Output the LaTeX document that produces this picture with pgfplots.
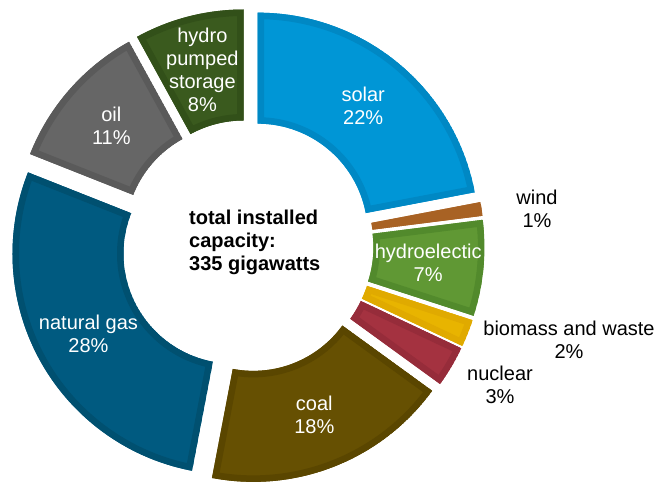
\documentclass[border=0pt]{standalone}
\usepackage{fontspec}
\setmainfont{Liberation Sans}
\usepackage{pgfplots}
\pgfplotsset{compat=1.18}

% slice colours: fill / darker border
\definecolor{solarF}{HTML}{0096D6}\definecolor{solarB}{HTML}{0088C4}
\definecolor{windF}{HTML}{B06828}\definecolor{windB}{HTML}{A86224}
\definecolor{hydroF}{HTML}{609834}\definecolor{hydroB}{HTML}{528A2C}
\definecolor{bioF}{HTML}{E8B400}\definecolor{bioB}{HTML}{E0AA00}
\definecolor{nucF}{HTML}{A43240}\definecolor{nucB}{HTML}{962C3A}
\definecolor{coalF}{HTML}{665002}\definecolor{coalB}{HTML}{5A4600}
\definecolor{gasF}{HTML}{005A80}\definecolor{gasB}{HTML}{005070}
\definecolor{oilF}{HTML}{666666}\definecolor{oilB}{HTML}{5A5A5A}
\definecolor{pumpF}{HTML}{3A5A1E}\definecolor{pumpB}{HTML}{325019}

\newcommand\cx{247.5}
\newcommand\cy{236}
\newcommand\pumplab{hydro\\pumped\\storage}
\newcommand\lblfont{\fontsize{20bp}{23bp}\selectfont}

\begin{document}
\begin{tikzpicture}
\begin{axis}[
    width=658bp, height=482bp, scale only axis,
    xmin=0, xmax=658, ymin=0, ymax=482,
    hide axis, clip=false,
]
\path (axis cs:0,0) rectangle (axis cs:658,482);
\pgfplotsextra{
  \xdef\curang{90}
  % share (%) / fill / border / inside label? / label
  \foreach \v/\fc/\bc/\f/\lab in {
      22/solarF/solarB/1/solar,
      1/windF/windB/0/wind,
      7/hydroF/hydroB/1/hydroelectic,
      2/bioF/bioB/0/biomass,
      3/nucF/nucB/0/nuclear,
      18/coalF/coalB/1/coal,
      28/gasF/gasB/1/natural gas,
      11/oilF/oilB/1/oil,
      8/pumpF/pumpB/1/\pumplab}{
    \pgfmathsetmacro\a{\curang}
    \pgfmathsetmacro\b{\curang-3.6*\v}
    \pgfmathsetmacro\m{(\a+\b)/2}
    \xdef\curang{\b}
    \coordinate (c) at ([shift={(\m:16bp)}]axis cs:\cx,\cy);
    \begin{scope}
      \clip ([shift={(\a:221bp)}]c) arc[start angle=\a, end angle=\b, radius=221bp]
        -- ([shift={(\b:110bp)}]c) arc[start angle=\b, end angle=\a, radius=110bp] -- cycle;
      \fill[\fc] ([shift={(\a:221bp)}]c) arc[start angle=\a, end angle=\b, radius=221bp]
        -- ([shift={(\b:110bp)}]c) arc[start angle=\b, end angle=\a, radius=110bp] -- cycle;
      \draw[\bc, line width=13bp, line join=miter] ([shift={(\a:221bp)}]c) arc[start angle=\a, end angle=\b, radius=221bp]
        -- ([shift={(\b:110bp)}]c) arc[start angle=\b, end angle=\a, radius=110bp] -- cycle;
    \end{scope}
    \ifnum\f=1
      \node[white, align=center, inner sep=0pt, font=\lblfont]
        at ([shift={(\m:165.5bp)}]c) {\lab\\\v\%};
    \fi
  }
}
% labels outside the ring
\node[align=center, inner sep=0pt, font=\lblfont] at (axis cs:537,273) {wind\\1\%};
\node[align=center, inner sep=0pt, font=\lblfont] at (axis cs:569,142) {biomass and waste\\2\%};
\node[align=center, inner sep=0pt, font=\lblfont] at (axis cs:500,97) {nuclear\\3\%};
% centre text
\node[anchor=north west, align=left, inner sep=0pt, font=\lblfont\bfseries]
  at (axis cs:189,272.5) {total installed\\capacity:\\335 gigawatts};
\end{axis}
\end{tikzpicture}
\end{document}
